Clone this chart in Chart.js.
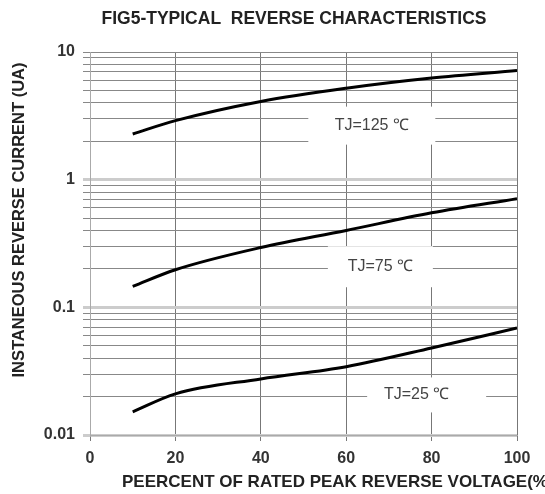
<!DOCTYPE html>
<html>
<head>
<meta charset="utf-8">
<script src="https://cdn.jsdelivr.net/npm/chart.js@4/dist/chart.umd.min.js"></script>
<style>
html,body{margin:0;padding:0;background:#fff;}
#wrap{width:545px;height:494px;position:relative;}
</style>
</head>
<body>
<div id="wrap"><canvas id="c" width="545" height="494"></canvas></div>
<script>
const titleText = "FIG5-TYPICAL  REVERSE CHARACTERISTICS";
const xTitle = "PEERCENT OF RATED PEAK REVERSE VOLTAGE(%)";
const yTitle = "INSTANEOUS REVERSE CURRENT (UA)";
const percent = [10, 20, 40, 60, 80, 100];
const tj125 = [2.28, 2.9, 4.1, 5.2, 6.25, 7.15];
const tj75 = [0.146, 0.197, 0.294, 0.40, 0.55, 0.71];
const tj25 = [0.0152, 0.021, 0.0275, 0.0343, 0.048, 0.069];
const seriesLabels = ["TJ=125 \u2103", "TJ=75 \u2103", "TJ=25 \u2103"];
const labelX = [66, 68, 76.5];
const labelY = [2.65, 0.208, 0.0206];
const xTicks = [0, 20, 40, 60, 80, 100];
const yDecades = [0.01, 0.1, 1, 10];

const yTickValues = [];
for (let e = -2; e <= 0; e++) {
  for (let s = 1; s <= 9; s++) yTickValues.push(+(s * Math.pow(10, e)).toPrecision(3));
}
yTickValues.push(10);

function pts(arr) { return percent.map((p, i) => ({x: p, y: arr[i]})); }

const FONT = '"Liberation Sans", Arial, sans-serif';

const deco = {
  id: 'deco',
  beforeDatasetsDraw(chart) {
    const ctx = chart.ctx, xs = chart.scales.x, ys = chart.scales.y;
    const boxes = [[127, 38], [105, 41], [119, 35]];
    ctx.save();
    ctx.fillStyle = '#fff';
    for (let i = 0; i < 3; i++) {
      const cx = xs.getPixelForValue(labelX[i]);
      const cy = ys.getPixelForValue(labelY[i]);
      ctx.fillRect(cx - boxes[i][0] / 2 + (i === 2 ? 10 : 0), cy - boxes[i][1] / 2, boxes[i][0], boxes[i][1]);
    }
    ctx.restore();
  },
  afterDatasetsDraw(chart) {
    const ctx = chart.ctx, xs = chart.scales.x, ys = chart.scales.y;
    ctx.save();
    ctx.fillStyle = '#444';
    ctx.textAlign = 'center';
    ctx.textBaseline = 'middle';
    ctx.font = '16px ' + FONT;
    for (let i = 0; i < 3; i++) {
      ctx.fillText(seriesLabels[i], xs.getPixelForValue(labelX[i]), ys.getPixelForValue(labelY[i]));
    }
    ctx.restore();
  },
  afterDraw(chart) {
    const ctx = chart.ctx;
    ctx.save();
    ctx.fillStyle = '#222';
    ctx.textBaseline = 'middle';
    ctx.textAlign = 'center';
    ctx.font = 'bold 17.5px ' + FONT;
    ctx.fillText(titleText, 294, 19);
    ctx.textAlign = 'left';
    ctx.font = 'bold 17px ' + FONT;
    ctx.fillText(xTitle, 122, 482);
    ctx.textAlign = 'center';
    ctx.font = 'bold 16.5px ' + FONT;
    ctx.translate(19, 220);
    ctx.rotate(-Math.PI / 2);
    ctx.fillText(yTitle, 0, 0);
    ctx.restore();
  }
};

const common = {borderColor: '#000', borderWidth: 3, pointRadius: 0, fill: false, cubicInterpolationMode: 'monotone'};

new Chart(document.getElementById('c'), {
  type: 'line',
  data: {
    datasets: [
      Object.assign({label: seriesLabels[0], data: pts(tj125)}, common),
      Object.assign({label: seriesLabels[1], data: pts(tj75)}, common),
      Object.assign({label: seriesLabels[2], data: pts(tj25)}, common)
    ]
  },
  options: {
    responsive: false,
    animation: false,
    devicePixelRatio: 1,
    layout: {padding: {left: 0, right: 28, top: 52, bottom: 0}},
    plugins: {legend: {display: false}, title: {display: false}, tooltip: {enabled: false}},
    scales: {
      x: {
        type: 'linear', min: 0, max: 100,
        afterBuildTicks(s) { s.ticks = xTicks.map(v => ({value: v})); },
        afterFit(s) { s.height = 59; },
        grid: {color: '#777', lineWidth: 1, tickLength: 6, drawOnChartArea: true},
        border: {color: '#aaa', width: 1},
        ticks: {color: '#333', font: {family: FONT, size: 16, weight: 'bold'}, padding: 8, maxRotation: 0}
      },
      y: {
        type: 'logarithmic', min: 0.01, max: 10,
        afterBuildTicks(s) { s.ticks = yTickValues.map(v => ({value: v})); },
        afterFit(s) { s.width = 90; },
        grid: {
          color: c => (yDecades.includes(c.tick && c.tick.value) && c.tick.value !== 10) ? '#ccc' : '#888',
          lineWidth: c => (yDecades.includes(c.tick && c.tick.value) && c.tick.value !== 10) ? 3 : 1,
          tickLength: 7
        },
        border: {color: '#aaa', width: 1},
        ticks: {
          color: '#333', font: {family: FONT, size: 16, weight: 'bold'}, padding: 8, autoSkip: false,
          callback: v => yDecades.includes(v) ? String(v) : ''
        }
      }
    }
  },
  plugins: [deco]
});
</script>
</body>
</html>
